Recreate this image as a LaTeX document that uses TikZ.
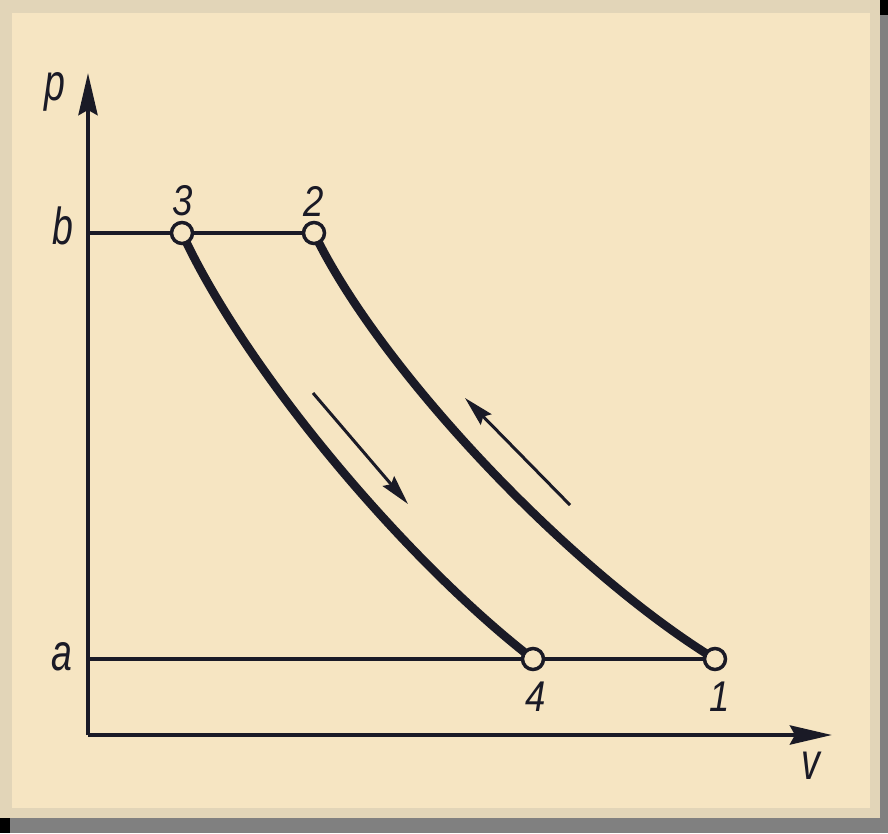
\documentclass[tikz,border=0pt]{standalone}
\usepackage{fontspec}
\setmainfont{Liberation Sans}
\usetikzlibrary{arrows.meta}
\definecolor{paper}{RGB}{246,229,194}
\definecolor{paperedge}{RGB}{226,213,184}
\definecolor{ink}{RGB}{26,26,38}
\definecolor{shadowgray}{RGB}{128,128,128}
\newcommand{\letterlbl}[1]{\scalebox{0.72}[1]{\fontsize{52}{52}\selectfont\itshape #1}}
\newcommand{\digitlbl}[1]{\scalebox{0.85}[1]{\fontsize{43}{43}\selectfont\itshape #1}}
\begin{document}
\begin{tikzpicture}[x=1pt,y=-1pt,
  axis/.style={ink,line width=4.5pt,-{Stealth[length=42pt,width=19pt,inset=5pt]}},
  level/.style={ink,line width=3.4pt},
  curve/.style={ink,line width=8.5pt},
  dirarrow/.style={ink,line width=3pt,-{Stealth[length=30pt,width=15pt,inset=4pt]}},
  pt/.style={circle,draw=ink,fill=paper,line width=3.5pt,minimum size=21pt,inner sep=0pt},
  lbl/.style={ink,inner sep=0pt}]
\useasboundingbox (0,0) rectangle (888,833);
% frame and paper
\fill[shadowgray] (10,818) rectangle (888,833);
\fill[shadowgray] (880,15) rectangle (888,833);
\fill[black] (880,0) rectangle (888,15);
\fill[black] (0,818) rectangle (10,833);
\fill[paperedge] (0,0) rectangle (880,818);
\fill[paper] (12,13) rectangle (870,808);
% coordinates
\coordinate (origin) at (88,735);
\coordinate (ptop) at (88,73);
\coordinate (vend) at (832,735);
\coordinate (bstart) at (88,233);
\coordinate (astart) at (88,659);
\coordinate (p1) at (715,659);
\coordinate (p2) at (314,233);
\coordinate (p3) at (182,233);
\coordinate (p4) at (533,659);
\coordinate (d1s) at (313,393);
\coordinate (d1e) at (408,504);
\coordinate (d2s) at (570,505);
\coordinate (d2e) at (465,398);
% axes
\draw[axis] (origin) -- (ptop);
\draw[axis] (origin) -- (vend);
% levels
\draw[level] (bstart) -- (p2);
\draw[level] (astart) -- (p1);
% curves
\draw[curve] (p3) .. controls (245,370) and (405,560) .. (p4);
\draw[curve] (p2) .. controls (380,370) and (570,570) .. (p1);
% direction arrows
\draw[dirarrow] (d1s) -- (d1e);
\draw[dirarrow] (d2s) -- (d2e);
% points
\node[pt] (c1) at (p1) {};
\node[pt] (c2) at (p2) {};
\node[pt] (c3) at (p3) {};
\node[pt] (c4) at (p4) {};
% labels
\node[lbl] (lp) at (55,92) {\letterlbl{p}};
\node[lbl] (lb) at (63,226) {\letterlbl{b}};
\node[lbl] (la) at (62,657) {\letterlbl{a}};
\node[lbl] (lv) at (811,766) {\letterlbl{v}};
\node[lbl] (l3) at (183,201) {\digitlbl{3}};
\node[lbl] (l2) at (314,201) {\digitlbl{2}};
\node[lbl] (l4) at (536,697) {\digitlbl{4}};
\node[lbl] (l1) at (720,697) {\digitlbl{1}};
\end{tikzpicture}
\end{document}
